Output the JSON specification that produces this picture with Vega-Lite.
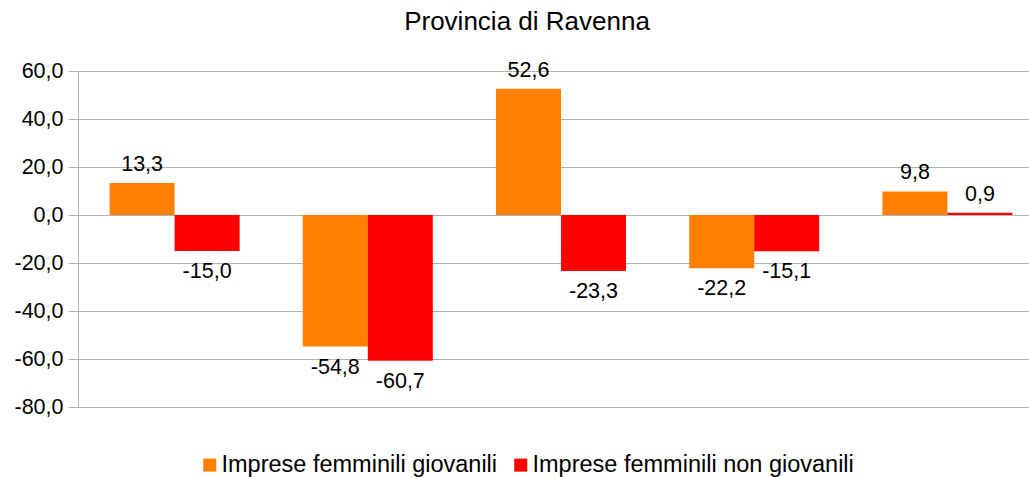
{
  "$schema": "https://vega.github.io/schema/vega-lite/v6.json",
  "autosize": {"type": "none"},
  "padding": {"left": 78, "top": 71, "right": 0, "bottom": 70},
  "width": 966,
  "height": 336,
  "title": {"text": "Provincia di Ravenna", "fontSize": 26, "font": "Liberation Sans", "fontWeight": "normal", "color": "#000000", "anchor": "middle", "offset": 25, "dx": -34},
  "data": {"values": [
    {"gruppo": "1", "serie": "Imprese femminili giovanili", "valore": 13.3},
    {"gruppo": "1", "serie": "Imprese femminili non giovanili", "valore": -15.0},
    {"gruppo": "2", "serie": "Imprese femminili giovanili", "valore": -54.8},
    {"gruppo": "2", "serie": "Imprese femminili non giovanili", "valore": -60.7},
    {"gruppo": "3", "serie": "Imprese femminili giovanili", "valore": 52.6},
    {"gruppo": "3", "serie": "Imprese femminili non giovanili", "valore": -23.3},
    {"gruppo": "4", "serie": "Imprese femminili giovanili", "valore": -22.2},
    {"gruppo": "4", "serie": "Imprese femminili non giovanili", "valore": -15.1},
    {"gruppo": "5", "serie": "Imprese femminili giovanili", "valore": 9.8},
    {"gruppo": "5", "serie": "Imprese femminili non giovanili", "valore": 0.9}
  ]},
  "encoding": {
    "x": {"field": "gruppo", "type": "nominal", "axis": null, "scale": {"paddingInner": 0.327, "paddingOuter": 0.1635}},
    "xOffset": {"field": "serie", "type": "nominal", "scale": {"paddingInner": 0, "paddingOuter": 0}},
    "y": {"field": "valore", "type": "quantitative",
      "scale": {"domain": [-80, 60], "nice": false, "zero": false},
      "axis": {"values": [-80, -60, -40, -20, 0, 20, 40, 60], "format": ".1f", "title": null,
        "labelFontSize": 21.5, "labelFont": "Liberation Sans", "labelColor": "#000000", "labelPadding": 5,
        "tickColor": "#b3b3b3", "tickSize": 10, "domainColor": "#b3b3b3", "gridColor": "#b3b3b3", "grid": true}}
  },
  "layer": [
    {"mark": {"type": "bar"},
     "encoding": {"color": {"field": "serie", "type": "nominal",
        "scale": {"domain": ["Imprese femminili giovanili", "Imprese femminili non giovanili"], "range": ["#ff8000", "#ff0000"]},
        "legend": {"title": null, "orient": "none", "legendX": 120, "legendY": 382, "direction": "horizontal", "labelFontSize": 23.5, "labelFont": "Liberation Sans", "labelColor": "#000000", "symbolType": "square", "symbolSize": 170, "symbolStrokeWidth": 0, "columnPadding": 11, "labelOffset": 0, "labelLimit": 400}}}},
    {"transform": [{"filter": "datum.valore >= 0"}],
     "mark": {"type": "text", "baseline": "alphabetic", "dy": -12, "fontSize": 21.5, "font": "Liberation Sans", "color": "#000000"},
     "encoding": {"text": {"field": "valore", "type": "quantitative", "format": ".1f"}}},
    {"transform": [{"filter": "datum.valore < 0"}],
     "mark": {"type": "text", "baseline": "top", "dy": 10, "fontSize": 21.5, "font": "Liberation Sans", "color": "#000000"},
     "encoding": {"text": {"field": "valore", "type": "quantitative", "format": ".1f"}}}
  ],
  "config": {
    "view": {"stroke": null},
    "locale": {"number": {"decimal": ",", "thousands": ".", "grouping": [3], "currency": ["€", ""], "minus": "-"}}
  }
}
